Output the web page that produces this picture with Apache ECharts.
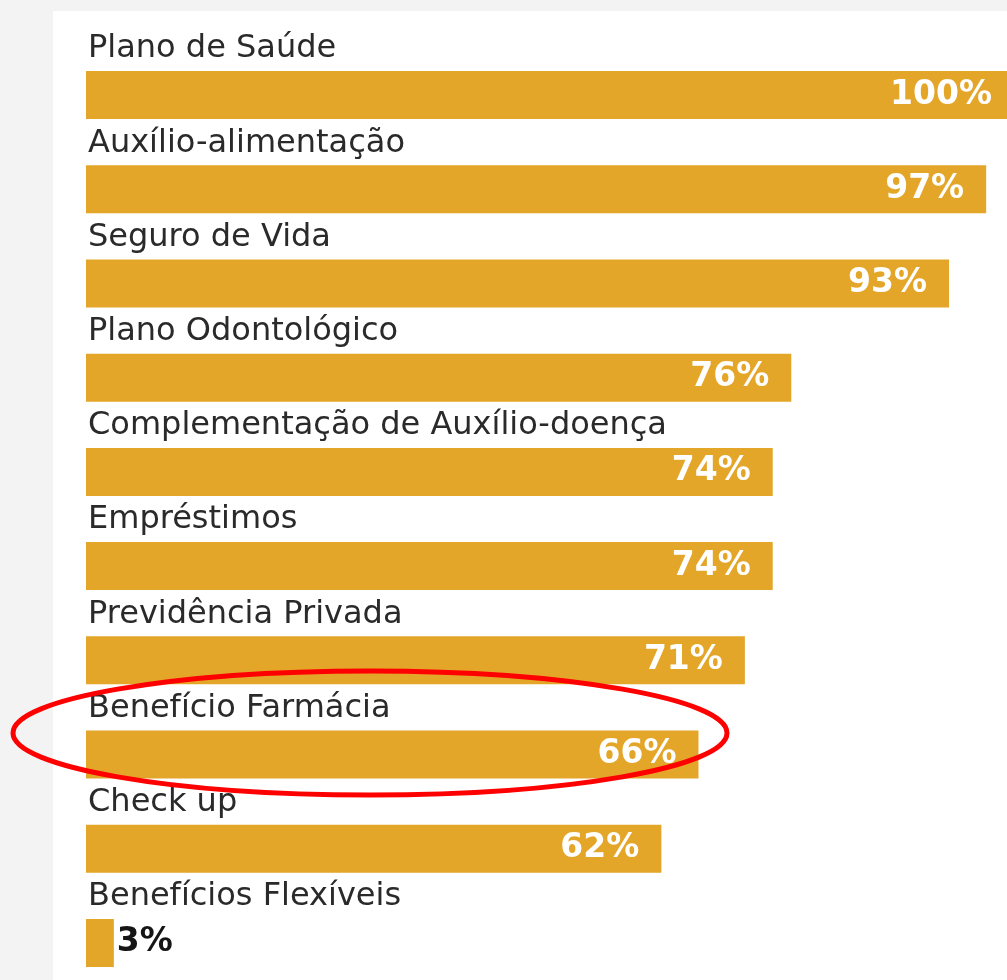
<!DOCTYPE html>
<html>
<head>
<meta charset="utf-8">
<script src="https://cdn.jsdelivr.net/npm/echarts@6/dist/echarts.min.js"></script>
<style>
html,body{margin:0;padding:0;background:#f3f3f3;}
#chart{width:1007px;height:980px;}
</style>
</head>
<body>
<div id="chart"></div>
<script>
const categories = [
  'Plano de Saúde',
  'Auxílio-alimentação',
  'Seguro de Vida',
  'Plano Odontológico',
  'Complementação de Auxílio-doença',
  'Empréstimos',
  'Previdência Privada',
  'Benefício Farmácia',
  'Check up',
  'Benefícios Flexíveis'
];
const values = [100, 97, 93, 76, 74, 74, 71, 66, 62, 3];
const valueLabels = ['100%', '97%', '93%', '76%', '74%', '74%', '71%', '66%', '62%', '3%'];

const barColor = '#E4A628';
const chart = echarts.init(document.getElementById('chart'));

const valueData = values.map((v, i) => {
  const item = { value: v };
  if (v < 10) {
    item.label = { position: 'right', distance: 3, color: '#151515' };
  }
  return item;
});

chart.setOption({
  backgroundColor: '#f3f3f3',
  animation: false,
  graphic: [
    { type: 'rect', z: -10, shape: { x: 53, y: 11, width: 960, height: 975 }, style: { fill: '#ffffff' } },
    { type: 'ellipse', z: 100, shape: { cx: 370, cy: 733, rx: 357, ry: 62 },
      style: { fill: 'none', stroke: '#ff0000', lineWidth: 5 } }
  ],
  grid: { left: 86, width: 928, top: 48, height: 942, outerBoundsMode: 'none', containLabel: false },
  xAxis: { type: 'value', min: 0, max: 100, show: false },
  yAxis: { type: 'category', data: categories, inverse: true, show: false },
  series: [
    {
      type: 'bar',
      data: valueData,
      barWidth: 48,
      itemStyle: { color: barColor },
      label: {
        show: true,
        position: 'insideRight',
        distance: 22,
        color: '#ffffff',
        fontFamily: 'DejaVu Sans',
        fontWeight: 'bold',
        fontSize: 33,
        formatter: p => valueLabels[p.dataIndex]
      }
    },
    {
      type: 'bar',
      data: values,
      barWidth: 48,
      barGap: '-100%',
      itemStyle: { color: 'rgba(0,0,0,0)' },
      silent: true,
      label: {
        show: true,
        position: [2, -6],
        align: 'left',
        verticalAlign: 'bottom',
        color: '#2a2a2a',
        fontFamily: 'DejaVu Sans',
        fontSize: 32,
        formatter: p => categories[p.dataIndex]
      }
    }
  ]
});
</script>
</body>
</html>
